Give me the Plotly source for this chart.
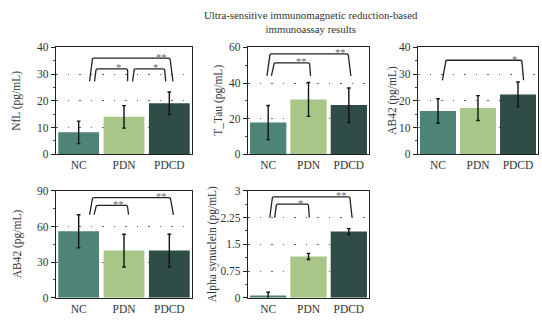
import plotly.graph_objects as go

# ---------------- data ----------------
categories = ["NC", "PDN", "PDCD"]

nfl_values = [8.2, 14.0, 19.1]
nfl_errors = [4.2, 4.2, 4.2]

ttau_values = [17.8, 30.8, 27.6]
ttau_errors = [9.6, 9.5, 9.6]

ab42a_values = [16.2, 17.3, 22.4]
ab42a_errors = [4.6, 4.65, 4.65]

ab42b_values = [56.0, 39.7, 39.7]
ab42b_errors = [13.9, 13.8, 13.8]

asyn_values = [0.065, 1.16, 1.86]
asyn_errors = [0.09, 0.085, 0.08]

y_titles = ["NfL (pg/mL)", "T_Tau (pg/mL)", "AB42 (pg/mL)", "AB42 (pg/mL)", "Alpha synuclein (pg/mL)"]
title_text = "Ultra-sensitive immunomagnetic reduction-based<br>immunoassay results"

# ---------------- styling / layout ----------------
W, H = 542, 323
bar_colors = ["#4e8378", "#a8c688", "#2f4c46"]
FONT = "Liberation Serif"

def px_x(p):
    return p / W

def px_y(p):
    return 1 - p / H

panels = [
    dict(v=nfl_values, e=nfl_errors, yr=[0, 40], dt=10, mdt=5, xd=(56, 192), yd=(43, 154), tx=17),
    dict(v=ttau_values, e=ttau_errors, yr=[0, 60], dt=20, mdt=10, xd=(248, 369), yd=(43, 154), tx=219),
    dict(v=ab42a_values, e=ab42a_errors, yr=[0, 40], dt=10, mdt=5, xd=(418, 538), yd=(43, 154), tx=393),
    dict(v=ab42b_values, e=ab42b_errors, yr=[0, 90], dt=30, mdt=15, xd=(56, 192), yd=(192, 303), tx=17),
    dict(v=asyn_values, e=asyn_errors, yr=[0, 3], dt=0.75, mdt=0.375, xd=(248, 369), yd=(192, 303), tx=212),
]

# significance brackets: (label, y_top, y_bottom, x_left_bottom, x_left_top, x_right_top, x_right_bottom)
brackets = [
    [("**", 36.0, 27.3, 0.24, 0.30, 2.02, 2.08),
     ("*", 32.0, 27.3, 0.35, 0.38, 1.08, 1.08),
     ("*", 32.0, 27.3, 1.19, 1.22, 1.90, 1.92)],
    [("**", 56.4, 44.0, -0.03, 0.04, 1.99, 2.05),
     ("**", 51.3, 44.0, 0.08, 0.14, 1.03, 1.05)],
    [("*", 35.2, 27.7, 0.11, 0.19, 2.10, 2.14)],
    [("**", 84.3, 69.8, 0.24, 0.30, 2.03, 2.09),
     ("**", 77.8, 70.0, 0.34, 0.38, 1.08, 1.10)],
    [("**", 2.83, 2.25, 0.04, 0.10, 2.03, 2.08),
     ("*", 2.63, 2.25, 0.16, 0.20, 1.00, 1.02)],
]

fig = go.Figure()
annotations = []
shapes = []
xcat = list(range(len(categories)))

for k, p in enumerate(panels):
    ax = "" if k == 0 else str(k + 1)
    fig.add_trace(go.Bar(
        x=xcat, y=p["v"],
        marker=dict(color=bar_colors, line=dict(width=0)),
        width=0.9,
        error_y=dict(type="data", array=p["e"], color="#111111", thickness=1.4, width=1.8),
        xaxis="x" + ax, yaxis="y" + ax, showlegend=False,
        hoverinfo="skip",
    ))
    xdom = [px_x(p["xd"][0]), px_x(p["xd"][1])]
    ydom = [px_y(p["yd"][1]), px_y(p["yd"][0])]
    fig.layout["xaxis" + ax] = dict(
        domain=xdom, anchor="y" + ax, range=[-0.5, 2.5],
        tickvals=xcat, ticktext=categories, ticks="",
        showline=True, linecolor="#222222", linewidth=1.3, mirror=True,
        showgrid=False, zeroline=False, fixedrange=True,
        tickfont=dict(family=FONT, size=11.5, color="#333333"),
    )
    fig.layout["yaxis" + ax] = dict(
        domain=ydom, anchor="x" + ax, range=p["yr"],
        dtick=p["dt"], tick0=0, ticks="outside", ticklen=4, tickwidth=1, tickcolor="#222222",
        minor=dict(dtick=p["mdt"], ticks="outside", ticklen=2, tickcolor="#444444", showgrid=False),
        showline=True, linecolor="#222222", linewidth=1.3, mirror=True,
        showgrid=True, gridcolor="#666666", gridwidth=1.4, griddash="1.5px,10px",
        zeroline=False, fixedrange=True,
        tickfont=dict(family=FONT, size=11.5, color="#333333"),
    )
    annotations.append(dict(
        x=px_x(p["tx"]), y=(ydom[0] + ydom[1]) / 2, xref="paper", yref="paper",
        text=y_titles[k], textangle=-90, showarrow=False,
        font=dict(family=FONT, size=11.5, color="#333333"),
        xanchor="center", yanchor="middle",
    ))
    for (lab, yt, yb, xlb, xlt, xrt, xrb) in brackets[k]:
        ry = (p["yr"][1] - p["yr"][0]) * 0.02
        rx = 0.04
        path = (f"M {xlb},{yb} L {xlt},{yt - ry} Q {xlt},{yt} {xlt + rx},{yt} "
                f"L {xrt - rx},{yt} Q {xrt},{yt} {xrt},{yt - ry} L {xrb},{yb}")
        shapes.append(dict(type="path", path=path, xref="x" + ax, yref="y" + ax,
                           line=dict(color="#222222", width=1.3)))
        annotations.append(dict(
            x=xrt - 0.2, y=yt, xref="x" + ax, yref="y" + ax, text=lab,
            showarrow=False, xanchor="center", yanchor="middle", yshift=1,
            font=dict(family=FONT, size=10.5, color="#666666"),
        ))

annotations.append(dict(
    x=px_x(311), y=px_y(16.5), xref="paper", yref="paper", text=title_text,
    showarrow=False, xanchor="center", yanchor="middle",
    font=dict(family=FONT, size=10.8, color="#333333"),
))

fig.update_layout(
    width=W, height=H, margin=dict(l=0, r=0, t=0, b=0),
    paper_bgcolor="white", plot_bgcolor="white",
    annotations=annotations, shapes=shapes, showlegend=False,
)

fig.write_html(
    "out.html",
    config={"displayModeBar": False},
    post_script="document.body.style.margin='0';document.body.style.padding='0';document.body.style.overflow='hidden';",
)
